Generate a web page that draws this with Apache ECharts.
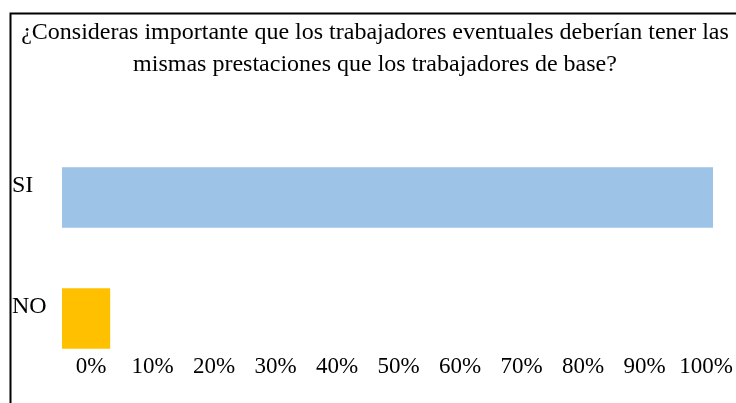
<!DOCTYPE html>
<html>
<head>
<meta charset="utf-8">
<script src="https://cdn.jsdelivr.net/npm/echarts@6/dist/echarts.min.js"></script>
<style>
html, body { margin: 0; padding: 0; background: #fff; }
#box1 { width: 736px; height: 403px; }
</style>
</head>
<body>
<div id="box1"></div>
<script>
var categories = ['NO', 'SI'];
var values = [7.4, 100];
var colors = ['#ffc000', '#9dc3e6'];
var tickLabels = ['0%', '10%', '20%', '30%', '40%', '50%', '60%', '70%', '80%', '90%', '100%'];

var dom = document.getElementById("box1");
var myChart = echarts.init(dom);
var font = '"Liberation Serif", "Times New Roman", serif';

var option = {
    animation: false,
    textStyle: { fontFamily: font, color: '#000' },
    title: {
        text: '¿Consideras importante que los trabajadores eventuales deberían tener las\nmismas prestaciones que los trabajadores de base?',
        left: 375,
        top: 17,
        padding: 0,
        textAlign: 'center',
        textStyle: { fontFamily: font, fontSize: 24, fontWeight: 'normal', color: '#000', lineHeight: 32 }
    },
    graphic: [{
        type: 'rect',
        shape: { x: 10.5, y: 13.5, width: 800, height: 500 },
        style: { fill: 'none', stroke: '#000', lineWidth: 2 }
    }],
    grid: [
        { left: 62, right: 23, top: 137, bottom: 24 },
        { left: 91, right: 25, top: 137, bottom: 50 }
    ],
    xAxis: [
        {
            gridIndex: 0, type: 'value', min: 0, max: 100,
            axisLine: { show: false }, axisTick: { show: false },
            splitLine: { show: false }, axisLabel: { show: false }
        },
        {
            gridIndex: 1, type: 'category', data: tickLabels, boundaryGap: false,
            axisLine: { show: false }, axisTick: { show: false }, splitLine: { show: false },
            axisLabel: { interval: 0, margin: 2, fontFamily: font, fontSize: 23, color: '#000' }
        }
    ],
    yAxis: [
        {
            gridIndex: 0, type: 'category', data: categories,
            axisLine: { show: false }, axisTick: { show: false },
            axisLabel: {
                align: 'left', verticalAlign: 'bottom', margin: 50,
                fontFamily: font, fontSize: 24, color: '#000'
            }
        },
        {
            gridIndex: 1, type: 'value', show: false
        }
    ],
    series: [{
        type: 'bar',
        xAxisIndex: 0, yAxisIndex: 0,
        barCategoryGap: '50%',
        data: values.map(function (v, i) {
            return { value: v, itemStyle: { color: colors[i] } };
        })
    }]
};

if (option && typeof option === "object") {
    myChart.setOption(option, true);
}
</script>
</body>
</html>
